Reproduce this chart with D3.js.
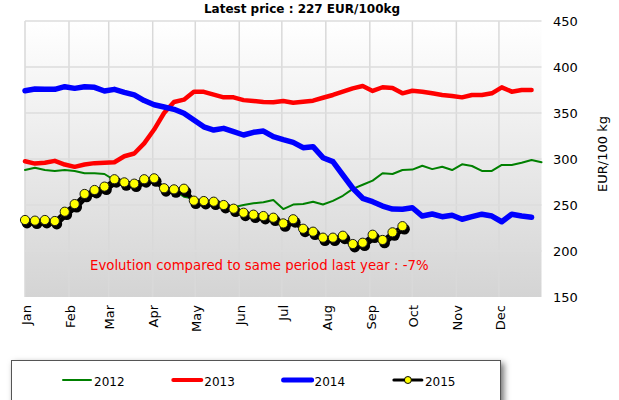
<!DOCTYPE html>
<html>
<head>
<meta charset="utf-8">
<script src="https://cdn.jsdelivr.net/npm/d3@7"></script>
<style>
  html, body { margin: 0; padding: 0; background: #fff; }
  svg { display: block; font-family: "DejaVu Sans", Verdana, sans-serif; }
</style>
</head>
<body>
<svg id="chart" width="619" height="400"></svg>
<script>
// ---- data ----
const months = ["Jan","Feb","Mar","Apr","May","Jun","Jul","Aug","Sep","Oct","Nov","Dec"];
const yTicks = [150, 200, 250, 300, 350, 400, 450];
const seriesNames = ["2012", "2013", "2014", "2015"];

// weekly prices (EUR/100kg), week 0 = 1 Jan
const values2012 = [288, 290.5, 288, 287, 288, 287, 284.5, 284.5, 283.7, 277, 275.5, 274.5, 275.5, 273.5,
  271, 266, 259, 257, 254, 252, 250, 247.5, 250, 251.8, 253, 255.4, 245.6, 250.5, 251, 253.6, 250.5,
  254.5, 260, 267.5, 272, 276.5, 284.5, 283.7, 288, 288.5, 292.6, 289, 291.6, 288, 294.2, 292.4, 287,
  287, 293.5, 293.5, 296, 298.9, 296.4];
const values2013 = [297.5, 295, 296, 298, 294, 291.5, 294, 295.5, 296, 296.5, 303, 306, 317, 332, 350,
  362, 364.5, 373, 373, 370, 367, 367, 364, 363, 362, 361.6, 363, 361.2, 362.3, 363.4, 366.6, 369.6,
  373.2, 376.8, 379.3, 374, 378, 377.2, 371.4, 374.2, 373.2, 371.4, 369.6, 368.5, 367, 369.6, 369.6,
  371.4, 377.9, 373.2, 375, 375];
const values2014 = [374.2, 376, 375.7, 375.7, 378.6, 376.8, 378.6, 377.9, 373.9, 375.7, 372.5, 369.6,
  363.5, 359, 356.5, 354, 349.7, 342.4, 335, 331.5, 333.3, 329.7, 326.1, 329, 330.4, 324.2, 321, 318.1,
  312.3, 313.4, 301.4, 297.1, 282.6, 268.2, 257.3, 253.6, 248.9, 245.6, 245.3, 247, 238, 240.2, 237.3,
  238.8, 234.5, 237.3, 240, 238, 231.8, 240, 238, 236.6];
const values2015 = [233.7, 233, 233.7, 232.6, 242.7, 251, 262, 266.3, 270, 278, 274.6, 273.2, 278, 279,
  268.2, 267, 267.7, 254.7, 254.3, 253.6, 250, 246, 241.6, 239.5, 238, 236.2, 230, 234.5, 224.2, 221,
  214.5, 214.5, 216.6, 207.6, 209, 217.7, 212, 220.3, 227];

const titleText = "Latest price : 227 EUR/100kg";
const noteText = "Evolution compared to same period last year : -7%";
const yLabel = "EUR/100 kg";

// ---- layout ----
const svg = d3.select("#chart");
const pL = 25, pR = 541.5, pT = 21, pB = 297;
const start = new Date(2015, 0, 1), end = new Date(2015, 11, 31);
const x = d3.scaleTime().domain([start, end]).range([pL, pR]);
const y = d3.scaleLinear().domain([150, 450]).range([pB, pT]);
const weekDate = i => d3.timeDay.offset(start, 7 * i);

const defs = svg.append("defs");
const grad = defs.append("linearGradient").attr("id", "bg").attr("x1", 0).attr("y1", 0).attr("x2", 0).attr("y2", 1);
grad.append("stop").attr("offset", "0%").attr("stop-color", "#ffffff");
grad.append("stop").attr("offset", "100%").attr("stop-color", "#d4d4d4");
const f = defs.append("filter").attr("id", "shadow").attr("x", "-10%").attr("y", "-50%").attr("width", "130%").attr("height", "250%");
f.append("feDropShadow").attr("dx", 3).attr("dy", 3).attr("stdDeviation", 3).attr("flood-color", "#000").attr("flood-opacity", 0.55);

// plot background
svg.append("rect").attr("x", pL).attr("y", pT).attr("width", pR - pL).attr("height", pB - pT)
  .attr("fill", "url(#bg)");

// grid
const monthDates = months.map((m, i) => new Date(2015, i, 1));
svg.append("g").selectAll("line").data(monthDates).join("line")
  .attr("x1", d => x(d)).attr("x2", d => x(d)).attr("y1", pT).attr("y2", pB)
  .attr("stroke", "#d9d9d9").attr("stroke-width", 1.5);
svg.append("g").selectAll("line").data(yTicks.filter(v => v > 150)).join("line")
  .attr("x1", pL).attr("x2", pR).attr("y1", d => y(d)).attr("y2", d => y(d))
  .attr("stroke", "#dcdcdc").attr("stroke-width", 1.5);

// axes
const xAxis = d3.axisBottom(x).tickValues(monthDates).tickFormat((d, i) => months[i]).tickSize(0);
const gx = svg.append("g").attr("transform", `translate(0,${pB})`).call(xAxis);
gx.select(".domain").remove();
gx.selectAll("text")
  .attr("transform", "rotate(-90)")
  .attr("x", -8).attr("y", 0).attr("dy", "0.4em")
  .style("text-anchor", "end")
  .attr("font-size", 13).attr("font-family", "DejaVu Sans").attr("fill", "#000");

const yAxis = d3.axisRight(y).tickValues(yTicks).tickFormat(d3.format("d")).tickSize(0);
const gy = svg.append("g").attr("transform", `translate(${553},0)`).call(yAxis);
gy.select(".domain").remove();
gy.selectAll("text").attr("x", 0).attr("font-size", 13).attr("font-family", "DejaVu Sans").attr("fill", "#000");

svg.append("text").attr("transform", `translate(607,${(pT + pB) / 2 - 5}) rotate(-90)`)
  .attr("text-anchor", "middle").attr("font-size", 13).text(yLabel);

// title
svg.append("text").attr("x", 302).attr("y", 13).attr("text-anchor", "middle")
  .attr("font-size", 12).attr("font-weight", "bold").text(titleText);

// lines
const line = d3.line().x((d, i) => x(weekDate(i))).y(d => y(d)).curve(d3.curveLinear);
const styles = [
  { data: values2012, color: "#008000", width: 2 },
  { data: values2013, color: "#ff0000", width: 4.5 },
  { data: values2014, color: "#0000ff", width: 5.5 }
];
styles.forEach(s => {
  svg.append("path").datum(s.data).attr("d", line).attr("fill", "none")
    .attr("stroke", s.color).attr("stroke-width", s.width)
    .attr("stroke-linejoin", "round").attr("stroke-linecap", "round");
});

// 2015 with shadow
const g15 = svg.append("g");
g15.append("path").datum(values2015).attr("d", line).attr("fill", "none")
  .attr("stroke", "#000").attr("stroke-width", 4.5).attr("transform", "translate(2,3)")
  .attr("stroke-linejoin", "round");
g15.append("g").attr("transform", "translate(2,3)").selectAll("circle").data(values2015).join("circle")
  .attr("cx", (d, i) => x(weekDate(i))).attr("cy", d => y(d)).attr("r", 5.4).attr("fill", "#000");
g15.append("path").datum(values2015).attr("d", line).attr("fill", "none")
  .attr("stroke", "#000").attr("stroke-width", 3).attr("stroke-linejoin", "round");
g15.append("g").selectAll("circle").data(values2015).join("circle")
  .attr("cx", (d, i) => x(weekDate(i))).attr("cy", d => y(d)).attr("r", 4.6)
  .attr("fill", "#ffff00").attr("stroke", "#1a1a1a").attr("stroke-width", 1);

// annotation
svg.append("text").attr("x", 90).attr("y", 269.5).attr("fill", "#ff0000")
  .attr("font-size", 13.3).text(noteText);

// legend
svg.append("rect").attr("x", 11.5).attr("y", 360.5).attr("width", 489).attr("height", 60)
  .attr("fill", "#fff").attr("stroke", "#555").attr("stroke-width", 1).attr("filter", "url(#shadow)");
const legendStyles = [
  { color: "#008000", width: 2 },
  { color: "#ff0000", width: 4 },
  { color: "#0000ff", width: 5 },
  { color: "#000000", width: 3, marker: true }
];
const lg = svg.append("g").selectAll("g").data(seriesNames).join("g")
  .attr("transform", (d, i) => `translate(${63 + i * 110.3},380)`);
lg.append("line").attr("x1", 0).attr("x2", 28).attr("y1", 0).attr("y2", 0)
  .attr("stroke", (d, i) => legendStyles[i].color).attr("stroke-width", (d, i) => legendStyles[i].width)
  .attr("stroke-linecap", "round");
lg.filter((d, i) => legendStyles[i].marker).append("circle").attr("cx", 14).attr("cy", 0).attr("r", 3.5)
  .attr("fill", "#ffff00").attr("stroke", "#000").attr("stroke-width", 1);
lg.append("text").attr("x", 31).attr("y", 5.5).attr("font-size", 12).text(d => d);
</script>
</body>
</html>
